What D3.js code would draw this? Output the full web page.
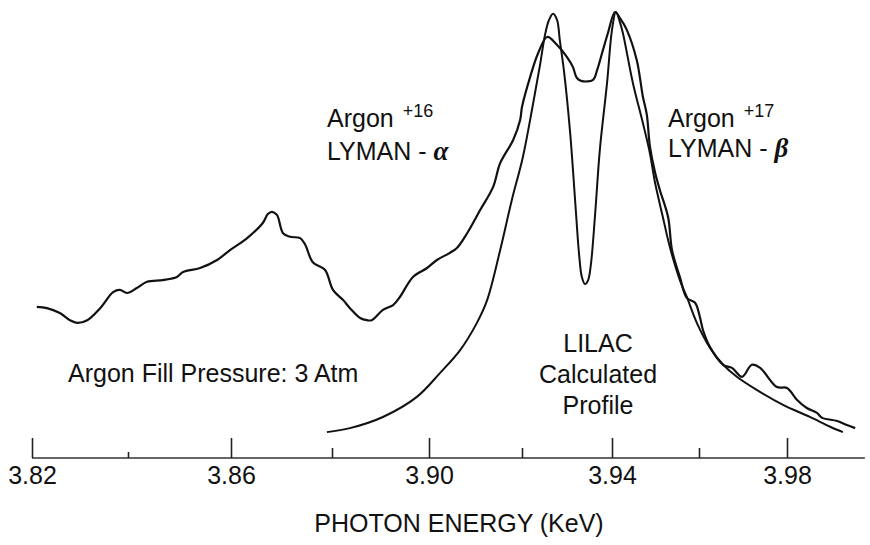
<!DOCTYPE html>
<html>
<head>
<meta charset="utf-8">
<script src="https://cdn.jsdelivr.net/npm/d3@7/dist/d3.min.js"></script>
<style>
  html, body { margin: 0; padding: 0; background: #fff; }
  svg text { font-family: "Liberation Sans", Arial, Helvetica, sans-serif; fill: #111; }
</style>
</head>
<body>
<svg id="chart" width="870" height="545"></svg>
<script>
// ---- data (photon energy in keV, intensity relative to peak) ----
const expEnergy = [3.8210,3.8231,3.8258,3.8279,3.8294,3.8315,3.8342,3.8369,3.8383,3.8398,3.8417,3.8437,3.8468,3.8495,3.8507,3.8540,3.8573,3.8598,3.8632,3.8663,3.8673,3.8681,3.8691,3.8703,3.8717,3.8737,3.8747,3.8762,3.8786,3.8802,3.8823,3.8837,3.8858,3.8872,3.8882,3.8905,3.8926,3.8940,3.8967,3.8996,3.9017,3.9045,3.9060,3.9082,3.9110,3.9138,3.9153,3.9181,3.9196,3.9200,3.9218,3.9236,3.9256,3.9278,3.9300,3.9313,3.9322,3.9333,3.9358,3.9367,3.9378,3.9391,3.9407,3.9418,3.9434,3.9457,3.9464,3.9471,3.9480,3.9487,3.9499,3.9510,3.9529,3.9538,3.9556,3.9572,3.9591,3.9602,3.9609,3.9625,3.9655,3.9675,3.9698,3.9720,3.9739,3.9777,3.9800,3.9823,3.9845,3.9868,3.9880,3.9914,3.9936,3.9955];
const expIntensity = [0.339,0.336,0.325,0.309,0.303,0.309,0.336,0.372,0.377,0.370,0.381,0.395,0.399,0.406,0.417,0.426,0.444,0.466,0.493,0.527,0.547,0.552,0.545,0.504,0.496,0.493,0.478,0.439,0.422,0.377,0.354,0.336,0.314,0.309,0.309,0.332,0.343,0.361,0.406,0.426,0.444,0.460,0.471,0.504,0.556,0.608,0.661,0.713,0.758,0.787,0.854,0.908,0.944,0.926,0.899,0.877,0.852,0.845,0.848,0.870,0.908,0.953,1.000,0.987,0.960,0.892,0.854,0.810,0.770,0.700,0.640,0.601,0.540,0.466,0.406,0.359,0.348,0.316,0.287,0.249,0.209,0.202,0.182,0.209,0.202,0.159,0.157,0.130,0.112,0.101,0.090,0.083,0.074,0.067];

const calcEnergy = [3.8790,3.8837,3.8905,3.8975,3.9024,3.9067,3.9103,3.9125,3.9153,3.9178,3.9202,3.9224,3.9240,3.9251,3.9260,3.9269,3.9278,3.9284,3.9293,3.9307,3.9318,3.9327,3.9333,3.9340,3.9347,3.9353,3.9362,3.9373,3.9389,3.9400,3.9409,3.9418,3.9425,3.9448,3.9471,3.9487,3.9499,3.9517,3.9533,3.9556,3.9572,3.9595,3.9625,3.9655,3.9686,3.9732,3.9791,3.9852,3.9898,3.9927];
const calcIntensity = [0.058,0.067,0.092,0.137,0.191,0.242,0.303,0.354,0.466,0.578,0.675,0.791,0.881,0.948,0.982,0.996,0.982,0.937,0.870,0.729,0.578,0.455,0.406,0.390,0.399,0.433,0.540,0.691,0.841,0.960,1.000,0.978,0.953,0.841,0.751,0.684,0.617,0.540,0.473,0.399,0.361,0.303,0.247,0.209,0.182,0.152,0.119,0.092,0.070,0.058];

const majorTicks = [3.82, 3.86, 3.90, 3.94, 3.98];
const minorTicks = [3.88, 3.92, 3.96];
const faintTicks = [3.84];
const axisTitle = "PHOTON ENERGY (KeV)";

// ---- scales (the original plate's energy axis is slightly non-uniform) ----
const svg = d3.select("#chart");
const x = d3.scaleLinear()
  .domain([3.82, 3.84, 3.86, 3.88, 3.90, 3.92, 3.94, 3.96, 3.98, 4.00])
  .range([32, 128, 231, 332, 429, 522, 612, 699, 787, 875]);
const y = d3.scaleLinear().domain([0, 1]).range([458, 12]);
const axisY = 458;

// ---- axis ----
svg.append("line")
  .attr("x1", x(3.82)).attr("x2", x(3.9977))
  .attr("y1", axisY).attr("y2", axisY)
  .attr("stroke", "#333").attr("stroke-width", 1.6);

const gMajor = svg.append("g").attr("transform", `translate(0,${axisY})`)
  .call(d3.axisBottom(x).tickValues(majorTicks).tickSizeInner(-20).tickSizeOuter(0)
        .tickPadding(8).tickFormat(d3.format(".2f")));
gMajor.select(".domain").remove();
gMajor.selectAll(".tick line").attr("stroke", "#222").attr("stroke-width", 1.6);
gMajor.selectAll(".tick text")
  .attr("font-family", "Liberation Sans, Arial, sans-serif")
  .attr("font-size", 25).attr("fill", "#111");

function minorAxis(values, size) {
  const g = svg.append("g").attr("transform", `translate(0,${axisY})`)
    .call(d3.axisBottom(x).tickValues(values).tickSizeInner(-size).tickSizeOuter(0)
          .tickFormat(""));
  g.select(".domain").remove();
  g.selectAll(".tick line").attr("stroke", "#222").attr("stroke-width", 1.6);
}
minorAxis(minorTicks, 10);
minorAxis(faintTicks, 6);

svg.append("text")
  .attr("x", 459).attr("y", 532)
  .attr("text-anchor", "middle")
  .attr("font-size", 25)
  .text(axisTitle);

// ---- curves ----
const line = d3.line()
  .x(d => x(d[0])).y(d => y(d[1]))
  .curve(d3.curveCatmullRom.alpha(0.5));

const expData = expEnergy.map((e, i) => [e, expIntensity[i]]);
const calcData = calcEnergy.map((e, i) => [e, calcIntensity[i]]);

svg.append("path").datum(calcData)
  .attr("d", line).attr("fill", "none")
  .attr("stroke", "#111").attr("stroke-width", 2);
svg.append("path").datum(expData)
  .attr("d", line).attr("fill", "none")
  .attr("stroke", "#111").attr("stroke-width", 2.2)
  .attr("stroke-linejoin", "round");

// ---- annotations ----
function argonLabel(x0, yTop, charge, lyBase, greek) {
  const t = svg.append("text").attr("x", x0).attr("y", yTop).attr("font-size", 25);
  t.append("tspan").text("Argon ");
  t.append("tspan").attr("font-size", 18).attr("dy", -10).attr("dx", 2).text(charge);
  const t2 = svg.append("text").attr("x", x0).attr("y", lyBase).attr("font-size", 25);
  t2.append("tspan").text("LYMAN - ");
  t2.append("tspan")
    .attr("font-family", "Liberation Serif, DejaVu Serif, serif")
    .attr("font-weight", "bold").attr("font-style", "italic")
    .attr("font-size", 27).text(greek);
}
argonLabel(327, 127, "+16", 160, "α");
argonLabel(668, 127, "+17", 157, "β");

svg.append("text").attr("x", 68).attr("y", 382).attr("font-size", 25)
  .text("Argon Fill Pressure: 3 Atm");

const lilac = ["LILAC", "Calculated", "Profile"];
svg.append("g").selectAll("text").data(lilac).join("text")
  .attr("x", 598).attr("y", (d, i) => 352 + i * 31)
  .attr("text-anchor", "middle").attr("font-size", 25)
  .text(d => d);
</script>
</body>
</html>
